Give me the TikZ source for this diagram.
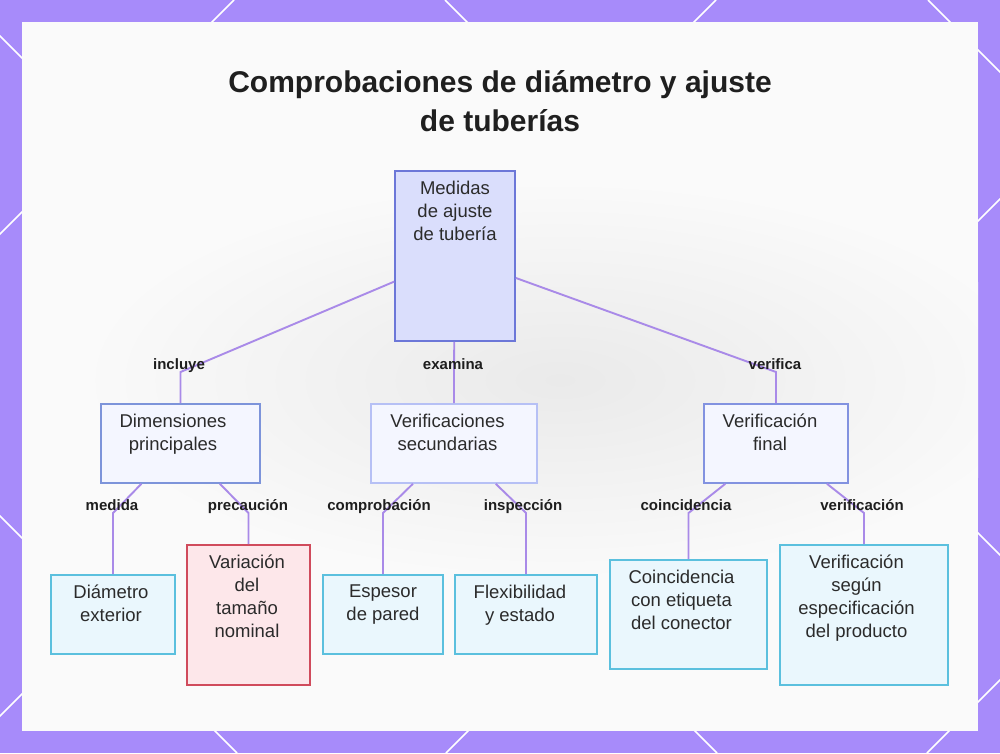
\documentclass[tikz,border=0pt]{standalone}
\usepackage{fontspec}
\setmainfont{Liberation Sans}
\definecolor{bgpurple}{RGB}{167,139,250}
\definecolor{panelcol}{RGB}{250,250,250}
\definecolor{hazecol}{RGB}{234,234,234}
\definecolor{rootfill}{RGB}{218,222,252}
\definecolor{rootdraw}{RGB}{108,119,216}
\definecolor{midfill}{RGB}{244,246,255}
\definecolor{dimdraw}{RGB}{125,148,218}
\definecolor{secdraw}{RGB}{182,192,245}
\definecolor{findraw}{RGB}{130,146,224}
\definecolor{leaffill}{RGB}{234,247,253}
\definecolor{leafdraw}{RGB}{91,192,222}
\definecolor{warnfill}{RGB}{253,231,234}
\definecolor{warndraw}{RGB}{208,75,92}
\definecolor{conncol}{RGB}{169,138,232}
\definecolor{textcol}{RGB}{43,43,43}
\definecolor{lblcol}{RGB}{30,30,30}
\newcommand\myNodeFont{\fontsize{18.5}{23}\selectfont}
\newcommand\myLblFont{\fontsize{15}{18}\selectfont\bfseries}
\newcommand\myTitleFont{\fontsize{30}{39}\selectfont\bfseries}
\tikzset{
  lattice/.style={draw=white, line width=1.5pt},
  boxbase/.style={rectangle, line width=1.6pt, inner sep=0pt},
  rootbox/.style={boxbase, draw=rootdraw, fill=rootfill},
  dimbox/.style={boxbase, draw=dimdraw, fill=midfill},
  secbox/.style={boxbase, draw=secdraw, fill=midfill},
  finbox/.style={boxbase, draw=findraw, fill=midfill},
  leafbox/.style={boxbase, draw=leafdraw, fill=leaffill},
  warnbox/.style={boxbase, draw=warndraw, fill=warnfill},
  txt/.style={anchor=north, inner sep=0pt, align=center, font=\myNodeFont, text=textcol},
  lbl/.style={anchor=base, inner sep=0pt, font=\myLblFont, text=lblcol},
  conn/.style={draw=conncol, line width=1.9pt},
}
\begin{document}
\begin{tikzpicture}[x=1pt,y=-1pt]
\useasboundingbox (0,0) rectangle (1000,753);
% background
\fill[bgpurple] (0,0) rectangle (1000,753);
\begin{scope}
  \clip (0,0) rectangle (1000,753);
  \foreach \c in {234,716,1199,1680} \draw[lattice] (\c,0) -- ({\c-753},753);
  \foreach \c in {928,445,-36,-516} \draw[lattice] (\c,0) -- ({\c+753},753);
\end{scope}
\fill[panelcol] (22,22) rectangle (978,731);
\begin{scope}
  \clip (22,22) rectangle (978,731);
  \shade[inner color=hazecol, outer color=panelcol] (560,380) ellipse [x radius=480, y radius=200];
\end{scope}

% title
\node[align=center, font=\myTitleFont, text=black!88, inner sep=0pt] (title) at (500,101)
  {Comprobaciones de diámetro y ajuste\\de tuberías};

% boxes
\node[rootbox, minimum width=120, minimum height=170] (root) at (455,256) {};
\node[dimbox, minimum width=159, minimum height=79] (dim) at (180.5,443.5) {};
\node[secbox, minimum width=166, minimum height=79] (sec) at (454,443.5) {};
\node[finbox, minimum width=144, minimum height=79] (fin) at (776,443.5) {};
\node[leafbox, minimum width=124, minimum height=79] (dia) at (113,614.5) {};
\node[warnbox, minimum width=123, minimum height=140] (var) at (248.5,615) {};
\node[leafbox, minimum width=120, minimum height=79] (esp) at (383,614.5) {};
\node[leafbox, minimum width=142, minimum height=79] (flex) at (526,614.5) {};
\node[leafbox, minimum width=157, minimum height=109] (coin) at (688.5,614.5) {};
\node[leafbox, minimum width=168, minimum height=140] (spec) at (864,615) {};

% box texts
\node[txt] (roott) at (455,180.5) {Medidas\\de ajuste\\de tubería};
\node[txt] (dimt) at (173,413.5) {Dimensiones\\principales};
\node[txt] (sect) at (447.5,413.5) {Verificaciones\\secundarias};
\node[txt] (fint) at (770,413.5) {Verificación\\final};
\node[txt] (diat) at (111,584.5) {Diámetro\\exterior};
\node[txt] (vart) at (247,554.5) {Variación\\del\\tamaño\\nominal};
\node[txt] (espt) at (383,584.5) {Espesor\\de pared};
\node[txt] (flext) at (520,584.5) {Flexibilidad\\y estado};
\node[txt] (coint) at (681.5,569.5) {Coincidencia\\con etiqueta\\del conector};
\node[txt] (spect) at (856.5,554.5) {Verificación\\según\\especificación\\del producto};

% connectors
\coordinate (bendA) at (0,372);
\coordinate (bendB) at (0,513);
\draw[conn] (root) -- (dim.north |- bendA) -- (dim.north);
\draw[conn] (root) -- (sec.north |- bendA) -- (sec.north);
\draw[conn] (root) -- (fin.north |- bendA) -- (fin.north);
\draw[conn] (dim) -- (dia.north |- bendB) -- (dia.north);
\draw[conn] (dim) -- (var.north |- bendB) -- (var.north);
\draw[conn] (sec) -- (esp.north |- bendB) -- (esp.north);
\draw[conn] (sec) -- (flex.north |- bendB) -- (flex.north);
\draw[conn] (fin) -- (coin.north |- bendB) -- (coin.north);
\draw[conn] (fin) -- (spec.north |- bendB) -- (spec.north);

% connector labels
\node[lbl] (l1) at (179,369.5) {incluye};
\node[lbl] (l2) at (453,369.5) {examina};
\node[lbl] (l3) at (775,369.5) {verifica};
\node[lbl] (l4) at (112,510.5) {medida};
\node[lbl] (l5) at (248,510.5) {precaución};
\node[lbl] (l6) at (379,510.5) {comprobación};
\node[lbl] (l7) at (523,510.5) {inspección};
\node[lbl] (l8) at (686,510.5) {coincidencia};
\node[lbl] (l9) at (862,510.5) {verificación};
\end{tikzpicture}
\end{document}
